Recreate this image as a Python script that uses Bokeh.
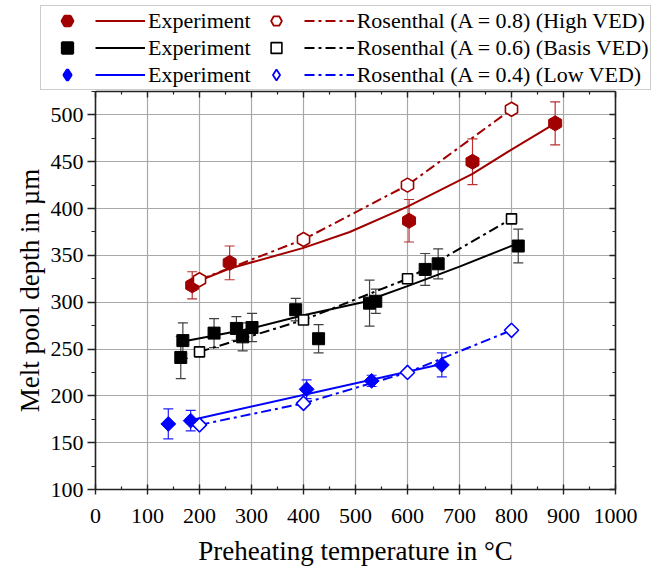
import math
from bokeh.plotting import figure
from bokeh.layouts import column
from bokeh.models import (ColumnDataSource, Whisker, TeeHead, LinearAxis, Range1d,
                          FixedTicker, Legend, LegendItem, CustomJSTickFormatter, Title)
from bokeh.embed import file_html
from bokeh.resources import INLINE

# ---- data -------------------------------------------------------------
# Rosenthal model predictions
ros_T = [200, 400, 600, 800]
ros_high = [324, 367, 425, 506]
ros_basis = [247, 281, 325, 389]
ros_low = [169, 192, 225, 270]

# Experiment, high VED
high_T = [186, 258, 603, 725, 884]
high_D = [318, 342, 387, 450, 491]
high_err = [14.5, 18, 22.7, 24.5, 23]
high_fit_T = [186, 258, 400, 489, 600, 725, 800, 884]
high_fit_D = [320, 336, 358, 375, 402, 437, 463, 491]

# Experiment, basis VED
basis_T = [164, 168, 228, 271, 283, 301, 385, 429, 527, 539, 634, 659, 813]
basis_D = [241, 259, 267, 272, 263, 273, 292, 261, 299, 301, 335, 341, 360]
basis_err = [22.6, 19, 15.5, 12.6, 15, 15, 12, 15, 24.5, 13, 17, 16, 18]
basis_fit_T = [168, 300, 400, 514, 604, 700, 813]
basis_fit_D = [258, 272, 286, 300, 318, 338, 363]

# Experiment, low VED
low_T = [140, 183, 406, 531, 666]
low_D = [170, 173.5, 207, 216, 233]
low_err = [16, 11, 10, 6, 12.8]
low_fit_T = [183, 666]
low_fit_D = [174, 234]

x_ticks = list(range(0, 1001, 100))
x_minor = list(range(50, 1000, 100))
y_ticks = list(range(100, 501, 50))
y_minor = list(range(125, 526, 50))

RED = "#A00000"
BLACK = "#000000"
BLUE = "#0000FF"
FONT = "Liberation Serif"
DASH = "10 4 3 4"
HEX_ANGLE = math.pi / 6
DIAMOND_ANGLE = math.pi / 4

# ---- main chart --------------------------------------------------------
p = figure(width=657, height=479, x_range=Range1d(0, 1000), y_range=Range1d(100, 525),
           output_backend="svg", toolbar_location=None,
           min_border_left=95, min_border_right=42, min_border_top=1, min_border_bottom=80,
           x_axis_label="Preheating temperature in °C")
p.outline_line_color = None
p.background_fill_color = "white"
p.border_fill_color = "white"

xt = FixedTicker(ticks=x_ticks, minor_ticks=x_minor)
yt = FixedTicker(ticks=y_ticks, minor_ticks=y_minor)

for g in (p.xgrid, p.ygrid):
    g.grid_line_color = "#A8A8A8"
    g.grid_line_width = 1.2
p.xgrid.ticker = xt
p.ygrid.ticker = yt

bottom_ax = p.below[0]
left_ax = p.left[0]
top_ax = LinearAxis()
right_ax = LinearAxis()
p.add_layout(top_ax, "above")
p.add_layout(right_ax, "right")


def style_axis(ax, ticker, tin, tout, mtin, mtout, labels=True):
    ax.ticker = ticker
    ax.axis_line_color = "#222222"
    ax.axis_line_width = 1.6
    ax.major_tick_line_color = "#222222"
    ax.minor_tick_line_color = "#222222"
    ax.major_tick_line_width = 1.4
    ax.minor_tick_line_width = 1.2
    ax.major_tick_in = tin
    ax.major_tick_out = tout
    ax.minor_tick_in = mtin
    ax.minor_tick_out = mtout
    ax.major_label_text_font = FONT
    ax.major_label_text_font_size = "22px"
    ax.major_label_text_color = "black"
    ax.axis_label_text_font = FONT
    ax.axis_label_text_font_size = "27px"
    ax.axis_label_text_font_style = "normal"
    ax.axis_label_text_color = "black"
    if not labels:
        ax.formatter = CustomJSTickFormatter(code="return ''")
        ax.major_label_standoff = 0
        ax.major_label_text_font_size = "1px"


style_axis(bottom_ax, xt, 5, 5, 3, 0)
style_axis(left_ax, yt, 0, 8, 0, 4)
style_axis(top_ax, xt, 6, 0, 3, 0, labels=False)
style_axis(right_ax, yt, 6, 0, 3, 0, labels=False)
bottom_ax.major_label_standoff = 14
left_ax.major_label_standoff = 4
bottom_ax.axis_label_standoff = 10

# vertical axis title, nudged slightly upwards
y_title = Title(text="Melt pool depth in µm", align="center", offset=15,
                text_font=FONT, text_font_size="27px", text_font_style="normal",
                text_color="black", standoff=6)
p.add_layout(y_title, "left")


def whisker(T, D, E, color, width=1.2):
    src = ColumnDataSource(dict(x=T, lo=[d - e for d, e in zip(D, E)],
                                hi=[d + e for d, e in zip(D, E)]))
    w = Whisker(source=src, base="x", lower="lo", upper="hi",
                line_color=color, line_width=width,
                lower_head=TeeHead(size=10, line_color=color, line_width=width),
                upper_head=TeeHead(size=10, line_color=color, line_width=width))
    p.add_layout(w)


whisker(high_T, high_D, high_err, "#B83030")
whisker(basis_T, basis_D, basis_err, "#404040")
whisker(low_T, low_D, low_err, "#2020FF")

# fitted experiment curves (solid) and Rosenthal predictions (dash-dot)
p.line(high_fit_T, high_fit_D, line_color=RED, line_width=2)
p.line(basis_fit_T, basis_fit_D, line_color=BLACK, line_width=2)
p.line(low_fit_T, low_fit_D, line_color=BLUE, line_width=2)
p.line(ros_T, ros_high, line_color=RED, line_width=2, line_dash=DASH)
p.line(ros_T, ros_basis, line_color=BLACK, line_width=2, line_dash=DASH)
p.line(ros_T, ros_low, line_color=BLUE, line_width=2, line_dash=DASH)

# marker styles of the chart
filled = [
    dict(marker="hex", size=15, angle=HEX_ANGLE, fill_color=RED, line_color=RED),
    dict(marker="square", size=12, angle=0, fill_color=BLACK, line_color=BLACK),
    dict(marker="square", size=10.5, angle=DIAMOND_ANGLE, fill_color=BLUE, line_color=BLUE),
]
hollow = [
    dict(marker="hex", size=14, angle=HEX_ANGLE, fill_color="white", line_color=RED, line_width=1.6),
    dict(marker="square", size=10, angle=0, fill_color="white", line_color=BLACK, line_width=1.6),
    dict(marker="square", size=10, angle=DIAMOND_ANGLE, fill_color="white", line_color=BLUE, line_width=1.6),
]
# legend swatches are drawn unrotated at a fixed size, so they get their own
# marker types and a heavier outline
legend_filled = [
    dict(marker="hex", fill_color=RED, line_color=RED, line_width=3),
    dict(marker="square", fill_color=BLACK, line_color=BLACK, line_width=2.5),
    dict(marker="diamond", fill_color=BLUE, line_color=BLUE, line_width=3),
]
legend_hollow = [
    dict(marker="hex", fill_color="white", line_color=RED, line_width=1.8),
    dict(marker="square", fill_color="white", line_color=BLACK, line_width=1.6),
    dict(marker="diamond", fill_color="white", line_color=BLUE, line_width=1.8),
]

exp_sets = [(high_T, high_D), (basis_T, basis_D), (low_T, low_D)]
fit_sets = [(high_fit_T, high_fit_D), (basis_fit_T, basis_fit_D), (low_fit_T, low_fit_D)]
ros_sets = [ros_high, ros_basis, ros_low]

for (T, D), st in zip(exp_sets, filled):
    p.scatter(T, D, **st)
for D, st in zip(ros_sets, hollow):
    p.scatter(ros_T, D, **st)

# ---- legend strip ------------------------------------------------------
# The legend lives in its own strip above the chart; its renderers carry the
# same series but the strip's ranges keep them out of view, so only the
# legend swatches show.
lg = figure(width=657, height=90, x_range=Range1d(0, 1), y_range=Range1d(0, 1),
            output_backend="svg", toolbar_location=None,
            x_axis_type=None, y_axis_type=None, min_border=0)
lg.frame_align = False
lg.outline_line_color = None
lg.xgrid.visible = False
lg.ygrid.visible = False
lg.background_fill_color = "white"
lg.border_fill_color = "white"

series = [
    (RED, "Rosenthal (A = 0.8) (High VED)"),
    (BLACK, "Rosenthal (A = 0.6) (Basis VED)"),
    (BLUE, "Rosenthal (A = 0.4) (Low VED)"),
]
items = []
for (color, ros_label), fst, hst, (T, D), (FT, FD), RD in zip(
        series, legend_filled, legend_hollow, exp_sets, fit_sets, ros_sets):
    r_fill = lg.scatter(x=T, y=D, **fst)
    r_fit = lg.line(x=FT, y=FD, line_color=color, line_width=2)
    r_open = lg.scatter(x=ros_T, y=RD, **hst)
    r_ros = lg.line(x=ros_T, y=RD, line_color=color, line_width=2, line_dash=DASH)
    items += [
        LegendItem(label="", renderers=[r_fill]),
        LegendItem(label="Experiment", renderers=[r_fit]),
        LegendItem(label="", renderers=[r_open]),
        LegendItem(label=ros_label, renderers=[r_ros]),
    ]

legend = Legend(items=items, ncols=4, orientation="horizontal",
                location=(40, 0),
                label_text_font=FONT, label_text_font_size="22px",
                label_text_color="black",
                glyph_width=50, glyph_height=27, label_width=0,
                label_standoff=3, spacing=0, padding=1, margin=0,
                border_line_color="#9A9A9A", border_line_width=1.2,
                background_fill_color="white", background_fill_alpha=1)
lg.add_layout(legend)

layout = column(lg, p, spacing=0)
open("out.html", "w").write(file_html(layout, INLINE))
